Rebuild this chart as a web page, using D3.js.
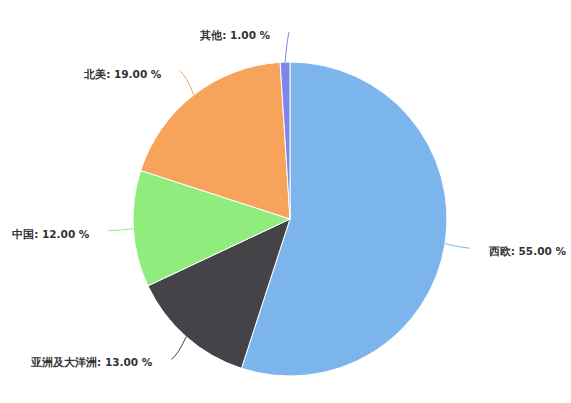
<!DOCTYPE html>
<html>
<head>
<meta charset="utf-8">
<script src="https://cdn.jsdelivr.net/npm/d3@7"></script>
<style>
  html, body { margin: 0; padding: 0; background: #ffffff; }
  svg { display: block; }
</style>
</head>
<body>
<svg id="chart" width="571" height="403"></svg>
<script>
// ---- data ----
const categories = ["西欧", "亚洲及大洋洲", "中国", "北美", "其他"];
const values = [55, 13, 12, 19, 1];
const colors = ["#7cb5ec", "#434348", "#90ed7d", "#f7a35c", "#8085e9"];

// ---- layout ----
const cx = 290, cy = 219, r = 157;
const labelDist = 30;
const svg = d3.select("#chart");

const pie = d3.pie().sort(null).value(d => d.v).startAngle(0).endAngle(2 * Math.PI);
const data = categories.map((c, i) => ({ c, v: values[i], color: colors[i] }));
const arcs = pie(data);
const arc = d3.arc().innerRadius(0).outerRadius(r);

const g = svg.append("g").attr("transform", `translate(${cx},${cy})`);
g.selectAll("path.slice").data(arcs).enter().append("path")
  .attr("class", "slice")
  .attr("d", arc)
  .attr("fill", d => d.data.color)
  .attr("stroke", "#ffffff")
  .attr("stroke-width", 1)
  .attr("stroke-linejoin", "round");

const total = d3.sum(values);
const R = r + labelDist;
const labels = arcs.map(a => {
  const m = (a.startAngle + a.endAngle) / 2;
  const right = Math.sin(m) >= 0;
  const y = -R * Math.cos(m);
  const x = (right ? 1 : -1) * Math.sqrt(R * R - y * y);
  return { a, m, right, x, y, ex: r * Math.sin(m), ey: -r * Math.cos(m) };
});

const lg = svg.append("g").attr("transform", `translate(${cx},${cy})`);
labels.forEach(l => {
  const s = l.right ? 1 : -1;
  const lx = l.x - s * 5, ly = l.y;
  const px = l.ex + 0.55 * (lx - l.ex), py = ly + 0.2 * (l.ey - ly);
  lg.append("path")
    .attr("d", `M${lx},${ly} Q${px},${py} ${l.ex},${l.ey}`)
    .attr("fill", "none")
    .attr("stroke", l.a.data.color)
    .attr("stroke-width", 1);
  const pct = (l.a.data.v / total * 100).toFixed(2);
  lg.append("text")
    .attr("x", l.x + s * 14)
    .attr("y", l.y + 7)
    .attr("text-anchor", l.right ? "start" : "end")
    .attr("font-family", "'DejaVu Sans', Verdana, Arial, sans-serif")
    .attr("font-size", 10.5)
    .attr("font-weight", "bold")
    .attr("fill", "#333333")
    .text(`${l.a.data.c}: ${pct} %`);
});
</script>
</body>
</html>
